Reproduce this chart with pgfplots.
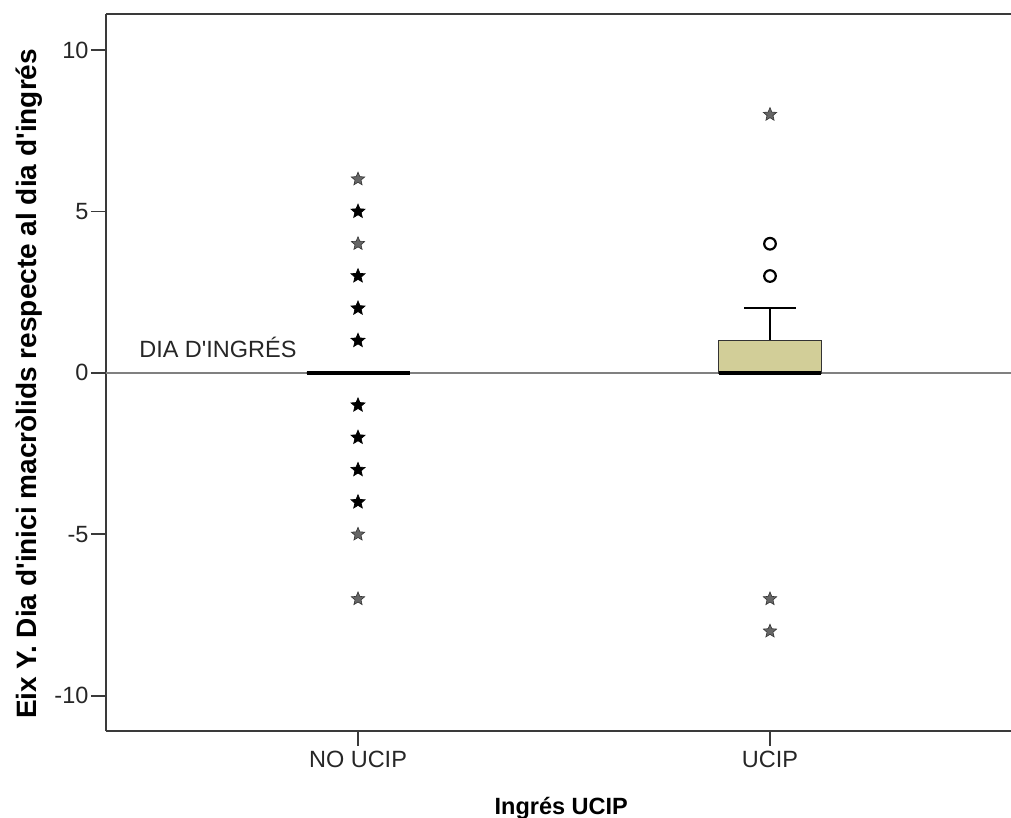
\documentclass[border=0pt]{standalone}
\usepackage{fontspec}
\setmainfont{Liberation Sans}[Ligatures=TeXOff]
\usepackage{pgfplots}
\pgfplotsset{compat=1.18}
\usepgfplotslibrary{statistics}
\definecolor{boxfill}{HTML}{D2CE98}
\definecolor{axisgray}{HTML}{3A3A3A}
\pgfdeclareplotmark{fstar}{%
  \pgfpathmoveto{\pgfpointpolar{90}{\pgfplotmarksize}}%
  \pgfpathlineto{\pgfpointpolar{126}{0.45\pgfplotmarksize}}%
  \pgfpathlineto{\pgfpointpolar{162}{\pgfplotmarksize}}%
  \pgfpathlineto{\pgfpointpolar{198}{0.45\pgfplotmarksize}}%
  \pgfpathlineto{\pgfpointpolar{234}{\pgfplotmarksize}}%
  \pgfpathlineto{\pgfpointpolar{270}{0.45\pgfplotmarksize}}%
  \pgfpathlineto{\pgfpointpolar{306}{\pgfplotmarksize}}%
  \pgfpathlineto{\pgfpointpolar{342}{0.45\pgfplotmarksize}}%
  \pgfpathlineto{\pgfpointpolar{18}{\pgfplotmarksize}}%
  \pgfpathlineto{\pgfpointpolar{54}{0.45\pgfplotmarksize}}%
  \pgfpathclose
  \pgfusepathqfillstroke}
\begin{document}
\begin{tikzpicture}
\begin{axis}[
  scale only axis, width=905pt, height=717pt,
  xmin=0.3883, xmax=2.585, ymin=-11.09, ymax=11.115,
  axis x line*=box, axis y line*=left,
  axis line style={-, axisgray, line width=1.8pt},
  xtick={1,2}, xticklabels={NO UCIP, UCIP},
  ytick={-10,-5,0,5,10}, yticklabels={-10,-5,0,5,10},
  xtick pos=bottom, ytick pos=left,
  tick align=outside, major tick length=15pt,
  tick style={axisgray, line width=1.8pt},
  ticklabel style={font=\fontsize{23.5}{28}\selectfont, text=black!85},
  xticklabel style={yshift=-2pt},
  yticklabel style={xshift=1pt},
  boxplot/draw direction=y,
  xlabel={Ingrés UCIP},
  ylabel={Eix Y. Dia d'inici macròlids respecte al dia d'ingrés},
  xlabel style={at={(axis description cs:0.503,-0.117)}, anchor=base, font=\fontsize{23.5}{28}\selectfont\bfseries},
  ylabel style={at={(axis description cs:-0.0845,0.484)}, anchor=center, font=\fontsize{28}{32}\selectfont\bfseries},
  clip=false,
]
\addplot[black!50, line width=2.4pt] coordinates {(0.3883,0) (2.585,0)};
\addplot[boxplot prepared={draw position=1, median=0, lower quartile=0, upper quartile=0, lower whisker=0, upper whisker=0, box extend=0.25, whisker extend=0.01},
  draw=black!80, line width=1.5pt, fill=boxfill, mark=none,
  boxplot/every median/.style={line width=4.5pt, draw=black}] coordinates {};
\addplot[boxplot prepared={draw position=2, median=0, lower quartile=0, upper quartile=1, lower whisker=0, upper whisker=2, box extend=0.25, whisker extend=0.124},
  draw=black!80, line width=1.5pt, fill=boxfill, mark=none,
  boxplot/every median/.style={line width=4.5pt, draw=black},
  boxplot/every whisker/.style={line width=2pt, draw=black}] coordinates {};
\addplot[only marks, mark=fstar, mark size=7.3pt, mark options={fill=black, draw=black, line width=0.7pt}]
  coordinates {(1,5) (1,3) (1,2) (1,1) (1,-1) (1,-2) (1,-3) (1,-4)};
\addplot[only marks, mark=fstar, mark size=7pt, mark options={fill=black!60, draw=black!80, line width=0.6pt}]
  coordinates {(1,6) (1,4) (1,-5) (1,-7) (2,8) (2,-7) (2,-8)};
\addplot[only marks, mark=o, mark size=5.8pt, mark options={draw=black, line width=2.2pt}]
  coordinates {(2,3) (2,4)};
\node[anchor=base, font=\fontsize{23.5}{28}\selectfont, text=black!85] at (axis cs:0.660,0.49) {DIA D'INGRÉS};
\end{axis}
\pgfresetboundingbox
\path[use as bounding box] ([xshift=-106pt,yshift=-87pt]current axis.south west) rectangle ([yshift=14pt]current axis.north east);
\end{tikzpicture}
\end{document}
